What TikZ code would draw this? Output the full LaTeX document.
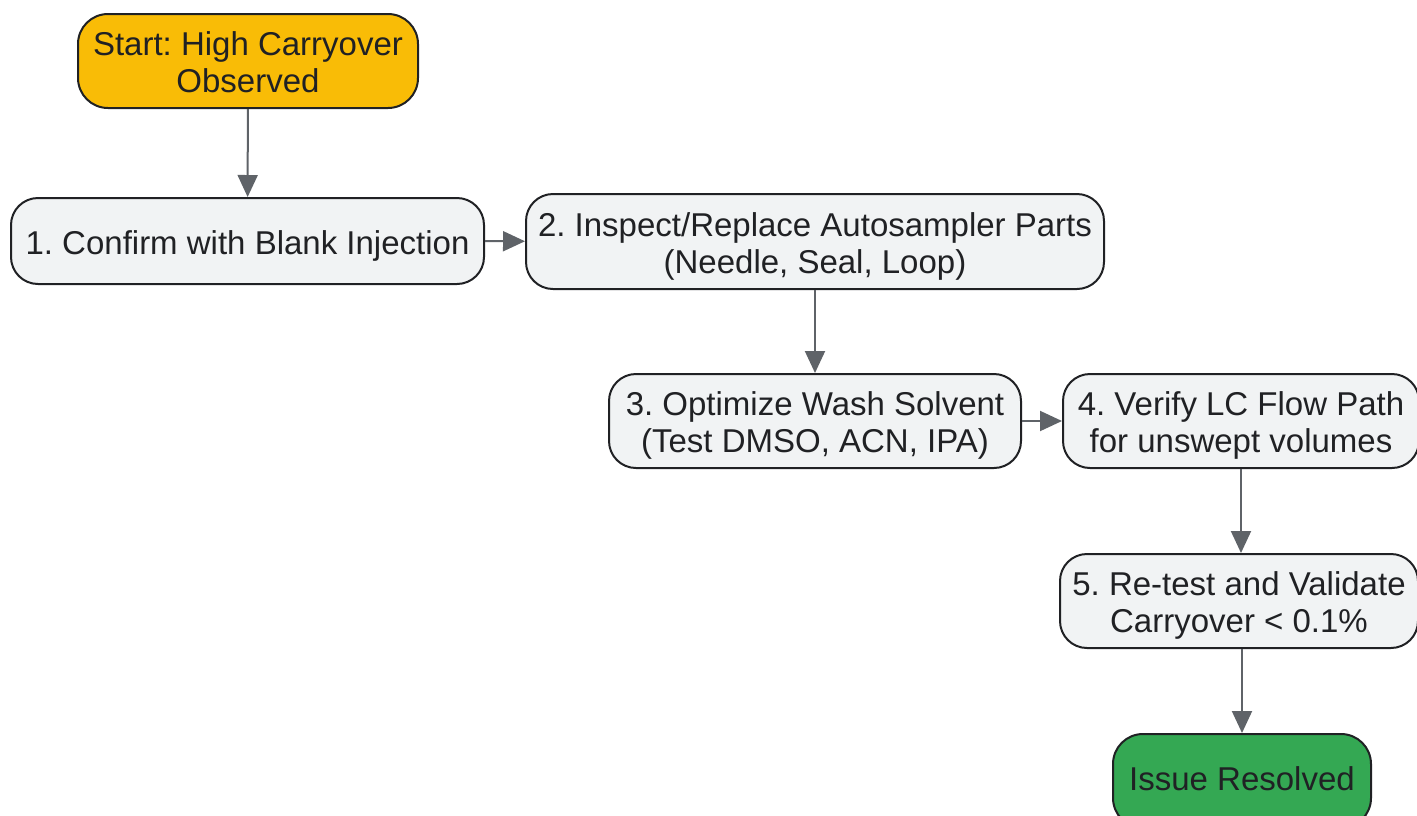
\documentclass[tikz,border=0pt]{standalone}
\usepackage{fontspec}
\setmainfont{Liberation Sans}
\frenchspacing
\usetikzlibrary{arrows.meta}
\definecolor{startfill}{HTML}{F9BC06}
\definecolor{stepfill}{HTML}{F1F3F4}
\definecolor{endfill}{HTML}{34A853}
\definecolor{edge}{HTML}{202124}
\definecolor{arrowc}{HTML}{5F6368}
\newcommand\firstln[1]{\raisebox{0pt}[26.6pt][0pt]{#1}}
\newcommand\lastln[1]{\raisebox{0pt}[0pt][0pt]{#1}}
\newcommand\resolvedln[1]{\raisebox{0pt}[18.6pt][0pt]{#1}}
\begin{document}
\begin{tikzpicture}[x=1pt,y=-1pt,
  box/.style={draw=edge, line width=2pt, rounded corners=27pt, fill=stepfill,
    align=center, inner sep=0pt, text=edge,
    font=\fontsize{33}{37}\selectfont},
  conn/.style={draw=arrowc, line width=2pt, -{Triangle[length=22pt,width=20pt]}}]
\path[use as bounding box] (0,0) rectangle (1417,815);
\node[box, fill=startfill, minimum width=340pt, minimum height=94pt, rounded corners=30pt] (s) at (248,61) {\firstln{Start: High Carryover}\\\lastln{Observed}};
\node[box, minimum width=473pt, minimum height=86pt] (b1) at (247.5,241) {\firstln{1. Confirm with Blank Injection}};
\node[box, minimum width=578pt, minimum height=95pt] (b2) at (815,241.5) {\firstln{2. Inspect/Replace Autosampler Parts}\\\lastln{(Needle, Seal, Loop)}};
\node[box, minimum width=412pt, minimum height=94pt] (b3) at (815,421) {\firstln{3. Optimize Wash Solvent}\\\lastln{(Test DMSO, ACN, IPA)}};
\node[box, minimum width=356pt, minimum height=94pt] (b4) at (1241,421) {\firstln{4. Verify LC Flow Path}\\\lastln{for unswept volumes}};
\node[box, minimum width=358pt, minimum height=94pt] (b5) at (1239,601) {\firstln{5. Re-test and Validate}\\\lastln{Carryover < 0.1\%}};
\node[box, fill=endfill, minimum width=258pt, minimum height=94pt, rounded corners=30pt] (e) at (1242,781) {\resolvedln{Issue Resolved}};
\draw[conn] (s) -- (b1);
\draw[conn] (b1) -- (b2);
\draw[conn] (b2) -- (b3);
\draw[conn] (b3) -- (b4);
\draw[conn] (b4.south) -- (b4.south |- b5.north);
\draw[conn] (b5.south -| e.north) -- (e.north);
\end{tikzpicture}
\end{document}
